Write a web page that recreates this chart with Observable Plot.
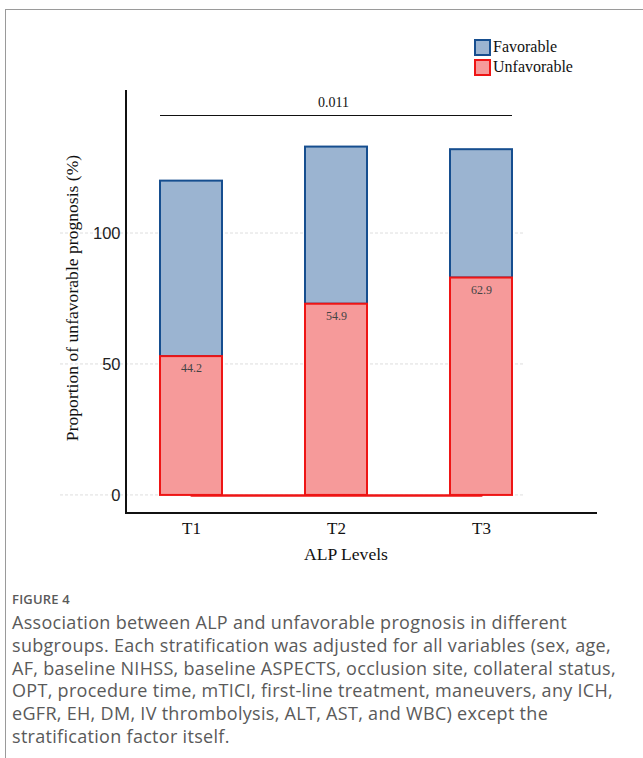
<!DOCTYPE html>
<html><head><meta charset="utf-8">
<script src="https://cdn.jsdelivr.net/npm/d3@7"></script>
<script src="https://cdn.jsdelivr.net/npm/@observablehq/plot@0.6"></script>
<style>
body{margin:0;background:#fff;}
#wrap{position:relative;width:643px;height:758px;overflow:hidden;background:#fff;}
#chart{position:absolute;left:0;top:0;}
#border{position:absolute;left:5px;top:9px;width:760px;height:800px;border-left:1px solid #9a9a9a;border-top:1px solid #9a9a9a;z-index:5;pointer-events:none;}
#legend{position:absolute;left:474px;top:37px;font-family:"Liberation Serif","Times New Roman",serif;font-size:16px;color:#111;z-index:4;}
.li{display:flex;align-items:center;height:20px;line-height:20px;}
.sw{width:13px;height:13px;border:2px solid;margin-right:2px;}
#caption{position:absolute;left:12px;top:590px;font-family:"Open Sans","Noto Sans",sans-serif;color:#5a5a5a;z-index:4;}
#caption .fig{font-size:13px;font-weight:600;letter-spacing:0.2px;line-height:18px;}
#caption .txt{font-size:18px;letter-spacing:0.3px;line-height:22.8px;margin-top:3px;}
</style></head>
<body>
<div id="wrap">
  <div id="chart"></div>
  <div id="legend"></div>
  <div id="caption"></div>
  <div id="border"></div>
</div>
<script>
const levels = ["T1", "T2", "T3"];
const unfavorable = [53, 73, 83];
const favorable = [67, 60, 49];
const pctLabels = ["44.2", "54.9", "62.9"];
const yTicks = [0, 50, 100];
const pValue = "0.011";
const sigLevel = 145;
const seriesNames = ["Favorable", "Unfavorable"];
const yTitle = "Proportion of unfavorable prognosis (%)";
const xTitle = "ALP Levels";
const figLabel = "FIGURE 4";
const captionLines = [
  "Association between ALP and unfavorable prognosis in different",
  "subgroups. Each stratification was adjusted for all variables (sex, age,",
  "AF, baseline NIHSS, baseline ASPECTS, occlusion site, collateral status,",
  "OPT, procedure time, mTICI, first-line treatment, maneuvers, any ICH,",
  "eGFR, EH, DM, IV thrombolysis, ALT, AST, and WBC) except the",
  "stratification factor itself."
];

const favFill = "#9bb4d1", favStroke = "#164e8f";
const unfFill = "#f69a9a", unfStroke = "#ee1515";
const serif = "'Liberation Serif','Times New Roman',serif";

const rows = levels.map((lv, i) => ({
  level: lv, unf: unfavorable[i], fav: favorable[i],
  total: unfavorable[i] + favorable[i], pct: pctLabels[i]
}));

function bandInfo(x) {
  const step = x(levels[1]) - x(levels[0]);
  let bw = typeof x.bandwidth === "function" ? x.bandwidth() : x.bandwidth;
  if (!(bw > 0)) bw = step * (1 - 0.575);
  return bw;
}

function gridMark(index, scales, values, dims) {
  const g = d3.create("svg:g");
  const bw = bandInfo(scales.x);
  const x1 = dims.marginLeft - 66;
  const x2 = scales.x(levels[levels.length - 1]) + bw + 11;
  for (const t of yTicks) {
    const y = scales.y(t);
    g.append("line").attr("x1", x1).attr("x2", x2).attr("y1", y).attr("y2", y)
      .attr("stroke", "#d6d6d6").attr("stroke-width", 0.8).attr("stroke-dasharray", "3,2");
  }
  return g.node();
}
function axisLines(index, scales, values, dims) {
  const g = d3.create("svg:g");
  const L = dims.marginLeft, R = dims.width - dims.marginRight;
  const T = dims.marginTop, B = dims.height - dims.marginBottom;
  g.append("line").attr("x1", L).attr("x2", L).attr("y1", T).attr("y2", B + 1)
    .attr("stroke", "#111").attr("stroke-width", 2);
  g.append("line").attr("x1", L - 1).attr("x2", R).attr("y1", B).attr("y2", B)
    .attr("stroke", "#111").attr("stroke-width", 2);
  return g.node();
}
function sigMark(index, scales, values, dims) {
  const g = d3.create("svg:g");
  const bw = bandInfo(scales.x);
  const x1 = scales.x(levels[0]);
  const x2 = scales.x(levels[levels.length - 1]) + bw;
  const y = Math.round(scales.y(sigLevel)) + 0.5;
  g.append("line").attr("x1", x1).attr("x2", x2).attr("y1", y).attr("y2", y)
    .attr("stroke", "#111").attr("stroke-width", 1.1);
  return g.node();
}

const plot = Plot.plot({
  width: 643,
  height: 575,
  marginLeft: 126,
  marginRight: 46,
  marginTop: 90,
  marginBottom: 62,
  style: {background: "transparent", color: "#111"},
  x: {type: "band", domain: levels, range: [124, 547], paddingInner: 0.575, paddingOuter: 0.24},
  y: {domain: [-6.9, 154.6]},
  marks: [
    gridMark,
    Plot.axisY({ticks: yTicks, tickSize: 0, tickPadding: 6, label: null,
      fontFamily: "'Liberation Sans',Arial,sans-serif", fontSize: 16.5, fill: "#222"}),
    Plot.axisX({tickSize: 0, tickPadding: 8, label: null, fontFamily: serif, fontSize: 17, fill: "#111"}),
    Plot.lineY(levels, {x: d => d, y: () => 0, stroke: unfStroke, strokeWidth: 2.5}),
    Plot.rectY(rows, {x: "level", y1: "unf", y2: "total", fill: favFill, stroke: favStroke, strokeWidth: 2}),
    Plot.rectY(rows, {x: "level", y1: () => 0, y2: "unf", fill: unfFill, stroke: unfStroke, strokeWidth: 2}),
    Plot.text(rows, {x: "level", y: "unf", text: "pct", dy: 12, fontFamily: serif, fontSize: 12, fill: "#444"}),
    sigMark,
    Plot.text([pValue], {x: () => levels[1], y: () => sigLevel, text: d => d, dx: -3, dy: -13, fontFamily: serif, fontSize: 14, fill: "#111"}),
    axisLines,
    Plot.text([yTitle], {text: d => d, frameAnchor: "left", textAnchor: "middle", rotate: -90, dx: -54, dy: -4, fontFamily: serif, fontSize: 17.6, fill: "#111"}),
    Plot.text([xTitle], {text: d => d, frameAnchor: "bottom", textAnchor: "middle", dx: -16, dy: 46, fontFamily: serif, fontSize: 17.6, fill: "#111"})
  ]
});
document.getElementById("chart").appendChild(plot);

const legend = document.getElementById("legend");
const legendColors = [[favFill, favStroke], [unfFill, unfStroke]];
seriesNames.forEach((name, i) => {
  const it = document.createElement("div");
  it.className = "li";
  const sw = document.createElement("span");
  sw.className = "sw";
  sw.style.background = legendColors[i][0];
  sw.style.borderColor = legendColors[i][1];
  const tx = document.createElement("span");
  tx.textContent = name;
  it.appendChild(sw); it.appendChild(tx);
  legend.appendChild(it);
});

const cap = document.getElementById("caption");
const f = document.createElement("div"); f.className = "fig"; f.textContent = figLabel;
const t = document.createElement("div"); t.className = "txt";
captionLines.forEach((ln) => {
  const s = document.createElement("div"); s.textContent = ln; s.style.whiteSpace = "nowrap"; t.appendChild(s);
});
cap.appendChild(f); cap.appendChild(t);
</script>
</body></html>
